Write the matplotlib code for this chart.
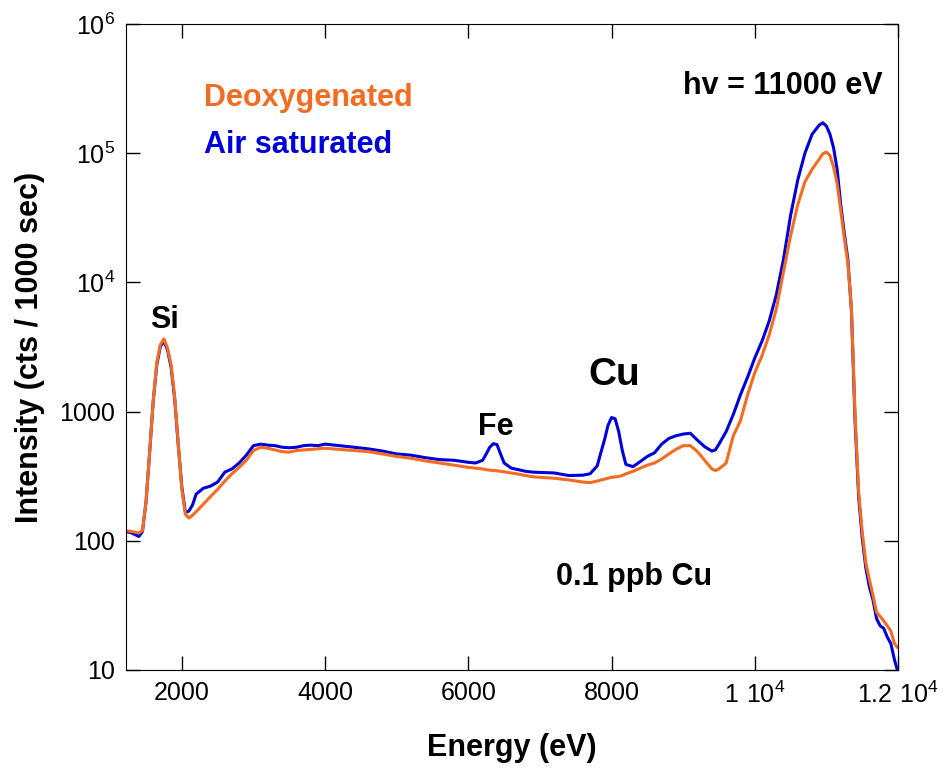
import numpy as np
import matplotlib.pyplot as plt

plt.rcParams['font.family'] = ['Liberation Sans', 'DejaVu Sans']
plt.rcParams['mathtext.default'] = 'regular'

energy = [1220, 1300, 1400, 1450, 1500, 1550, 1600, 1650, 1700, 1750, 1800, 1850,
          1900, 1950, 2000, 2050, 2100, 2150, 2200, 2300, 2400, 2500, 2600, 2700,
          2800, 2900, 3000, 3100, 3200, 3300, 3400, 3500, 3600, 3700, 3800, 3900,
          4000, 4200, 4400, 4600, 4800, 5000, 5200, 5400, 5600, 5800, 6000, 6100,
          6200, 6250, 6300, 6350, 6400, 6450, 6500, 6600, 6700, 6800, 6900, 7000,
          7200, 7400, 7600, 7700, 7800, 7850, 7900, 7950, 8000, 8050, 8100, 8150,
          8200, 8300, 8400, 8500, 8600, 8700, 8800, 8900, 9000, 9100, 9200, 9300,
          9400, 9450, 9500, 9600, 9700, 9800, 9900, 10000, 10100, 10200, 10300,
          10400, 10500, 10600, 10700, 10800, 10900, 10950, 11000, 11050, 11100, 11150,
          11200, 11250, 11300, 11350, 11400, 11450, 11500, 11550, 11600, 11650,
          11700, 11750, 11800, 11850, 11900, 11950, 11990]

air = [118, 115, 108, 118, 200, 480, 1200, 2300, 3200, 3500, 3000, 2200,
       1250, 550, 260, 165, 170, 190, 230, 255, 265, 285, 340, 360,
       400, 460, 545, 560, 550, 545, 530, 525, 530, 545, 550, 545,
       560, 545, 530, 515, 495, 470, 460, 440, 425, 420, 405, 400,
       420, 470, 530, 565, 555, 470, 400, 365, 355, 345, 340, 338,
       335, 320, 322, 330, 380, 480, 600, 780, 900, 880, 700, 500,
       390, 375, 410, 450, 480, 560, 620, 650, 670, 680, 600, 535,
       495, 505, 560, 700, 950, 1350, 1850, 2600, 3500, 5000, 8000,
       15000, 33000, 62000, 100000, 140000, 165000, 172000, 162000, 140000, 110000, 75000,
       40000, 24000, 15000, 6000, 850, 220, 105, 62, 44, 35,
       25, 22, 21, 18, 16, 12, 10]

deox = [120, 118, 115, 120, 200, 480, 1200, 2400, 3300, 3650, 3100, 2300,
        1300, 560, 250, 160, 150, 158, 168, 192, 220, 250, 290, 330,
        370, 420, 500, 530, 520, 505, 490, 485, 500, 505, 510, 515,
        520, 510, 500, 490, 470, 450, 435, 415, 400, 385, 370, 365,
        360, 355, 352, 350, 348, 345, 342, 335, 328, 320, 313, 310,
        305, 296, 285, 282, 290, 295, 300, 305, 310, 312, 315, 320,
        330, 345, 365, 385, 400, 430, 470, 510, 545, 545, 490, 420,
        360, 350, 360, 400, 650, 850, 1350, 2000, 2700, 3900, 6200,
        12000, 23000, 40000, 60000, 75000, 90000, 99000, 102000, 96000, 78000, 58000,
        36000, 22000, 14000, 6200, 950, 240, 118, 68, 50, 38,
        28, 26, 24, 22, 20, 16, 15]

orange = '#F36C21'
blue = '#0000D8'

fig = plt.figure(figsize=(9.43, 7.71), dpi=100)
ax = fig.add_axes([0.1336, 0.1310, 0.8187, 0.8379])

ax.plot(energy, air, color=blue, lw=2.2)
ax.plot(energy, deox, color=orange, lw=2.2)

ax.set_yscale('log')
ax.set_xlim(1220, 12000)
ax.set_ylim(10, 1e6)

ax.set_xticks([2000, 4000, 6000, 8000, 10000, 12000])
ax.set_xticklabels(['2000', '4000', '6000', '8000', r'$1\ 10^{4}$', r'$1.2\ 10^{4}$'])
ax.set_yticks([10, 100, 1000, 1e4, 1e5, 1e6])
ax.set_yticklabels(['10', '100', '1000', r'$10^{4}$', r'$10^{5}$', r'$10^{6}$'])
ax.minorticks_off()
ax.tick_params(direction='in', length=10, width=1, top=True, right=True,
               labelsize=18, pad=8)

ax.set_xlabel('Energy (eV)', fontsize=22, fontweight='bold', labelpad=18)
ax.set_ylabel('Intensity (cts / 1000 sec)', fontsize=22, fontweight='bold', labelpad=10)

bold = dict(fontsize=22, fontweight='bold', va='center')
ax.text(2313, 2.67e5, 'Deoxygenated', color=orange, ha='left', **bold)
ax.text(2313, 1.156e5, 'Air saturated', color=blue, ha='left', **bold)
ax.text(11785, 3.31e5, 'hv = 11000 eV', color='black', ha='right', **bold)
ax.text(1756, 5120, 'Si', color='black', ha='center', **bold)
ax.text(6381, 760, 'Fe', color='black', ha='center', **bold)
ax.text(8039, 1920, 'Cu', color='black', ha='center', fontsize=28,
        fontweight='bold', va='center')
ax.text(8318, 52.5, '0.1 ppb Cu', color='black', ha='center', **bold)

fig.savefig('out.png', dpi=100)
